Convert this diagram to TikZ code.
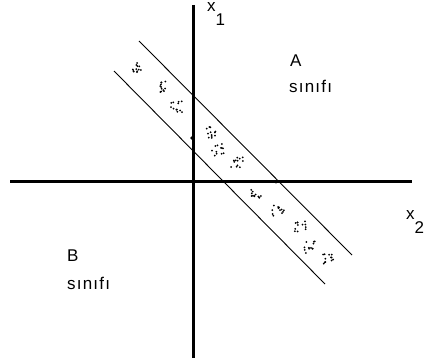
\documentclass[tikz,border=0pt]{standalone}
\usepackage{fontspec}
\setmainfont{Liberation Sans}
\usetikzlibrary{positioning}

\begin{document}
\begin{tikzpicture}[x=1pt, y=-1pt, axis/.style={line width=3pt}, band/.style={line width=0.9pt}, pt/.style={fill=black}, every node/.style={font=\fontsize{17}{19}\selectfont,inner sep=0pt,anchor=base west}]
\useasboundingbox (0,0) rectangle (425,358);
\coordinate (ytop) at (193,5);
\coordinate (ybot) at (193,358);
\coordinate (xl) at (10,181);
\coordinate (xr) at (412,181);
\draw[axis] (ytop) -- (ybot);
\draw[axis] (xl) -- (xr);
% the two parallel lines
\coordinate (u1) at (139,41);
\coordinate (u2) at (352,255);
\coordinate (l1) at (114,71);
\coordinate (l2) at (325,284);
\draw[band] (u1) -- (u2);
\draw[band] (l1) -- (l2);
% samples inside the band
\pgfmathsetseed{11}
\foreach \cx/\cy in {135/68,160/87,177/107,210/133,218/150,237/163,257/193,278/210,300/227,310/247,328/260}
  \foreach \i in {1,...,12}
    \fill[pt] ({\cx+6*rand},{\cy+6*rand}) circle (1pt);
\fill[pt] (192,138) circle (1.8pt);
\fill[pt] (276,182) circle (1.6pt);
% labels
\node (xone) at (207,12) {x\raisebox{-14pt}{1}};
\node (xtwo) at (406,219) {x\raisebox{-14pt}{2}};
\node (a) at (290,67) {A};
\node (asin) at (289,93) {\addfontfeatures{LetterSpace=7}sınıfı};
\node (b) at (67,261) {B};
\node (bsin) at (67,289) {\addfontfeatures{LetterSpace=7}sınıfı};
\end{tikzpicture}
\end{document}
